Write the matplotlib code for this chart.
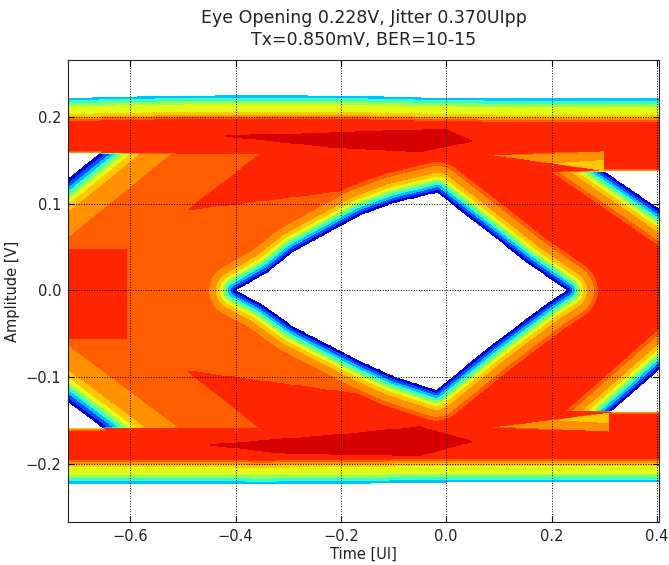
"""Statistical eye diagram (BER contour) redrawn from traced outlines."""

import numpy as np
import matplotlib
matplotlib.use("Agg")
import matplotlib.pyplot as plt
from matplotlib.path import Path

# ── traced shapes (x in UI, y in V) ─────────────────────────────────────
EYE_X = [-0.400, -0.337, -0.290, -0.162, -0.099, -0.017, 0.089, 0.154, 0.230,
         0.192, 0.091, -0.019, -0.100, -0.162, -0.290, -0.350]
EYE_Y = [0.000, 0.022, 0.045, 0.087, 0.101, 0.113, 0.063, 0.032, 0.000,
         -0.015, -0.061, -0.115, -0.099, -0.082, -0.042, -0.016]

RAIL_X = [-0.73, -0.55, -0.35, -0.15, 0.00, 0.20, 0.42]
RAIL_TOP_Y = [0.222, 0.224, 0.225, 0.224, 0.222, 0.221, 0.221]
RAIL_BOT_Y = [-0.222, -0.222, -0.223, -0.222, -0.221, -0.221, -0.221]

# corner openings: rail level, two points on the diagonal edge, a point inside
CORNERS = {
    "ul": dict(level=0.158, p0=(-0.657, 0.158), p1=(-0.714, 0.130), inside=(-0.72, 0.15), wide=True),
    "ll": dict(level=-0.159, p0=(-0.650, -0.159), p1=(-0.714, -0.130), inside=(-0.72, -0.15), wide=True),
    "ur": dict(level=0.137, p0=(0.300, 0.137), p1=(0.396, 0.097), inside=(0.40, 0.13), wide=False),
    "lr": dict(level=-0.140, p0=(0.312, -0.140), p1=(0.400, -0.093), inside=(0.40, -0.13), wide=False),
}

# body regions (jet value per region)
ORANGE_X = [-0.73, -0.35, -0.49, -0.16, -0.04, -0.017, -0.017, -0.04, -0.16, -0.49, -0.35, -0.73]
ORANGE_Y = [0.158, 0.158, 0.093, 0.118, 0.136, 0.113, -0.115, -0.138, -0.120, -0.093, -0.160, -0.160]
RED_BLOCK_X = [-0.73, -0.606, -0.606, -0.73]
RED_BLOCK_Y = [-0.056, -0.056, 0.047, 0.047]
DARK_TOP_X = [-0.42, -0.10, 0.00, 0.05, -0.05, -0.20]
DARK_TOP_Y = [0.178, 0.184, 0.185, 0.172, 0.160, 0.164]
DARK_BOT_X = [-0.45, -0.20, -0.05, 0.05, -0.05, -0.30]
DARK_BOT_Y = [-0.178, -0.166, -0.157, -0.174, -0.190, -0.188]
TAIL_TOP_X = [0.08, 0.30, 0.30]
TAIL_TOP_Y = [0.156, 0.161, 0.137]
TAIL_BOT_X = [0.08, 0.31, 0.31]
TAIL_BOT_Y = [-0.158, -0.163, -0.140]
TAIL_TOP_IN_X = [0.19, 0.30, 0.30]
TAIL_TOP_IN_Y = [0.147, 0.151, 0.137]
TAIL_BOT_IN_X = [0.19, 0.31, 0.31]
TAIL_BOT_IN_Y = [-0.150, -0.153, -0.140]

# jet values of the filled bands
LEVELS = [0.02, 0.14, 0.26, 0.37, 0.47, 0.58, 0.665, 0.73, 0.785, 0.835, 0.90, 0.95]
V_YO, V_LO, V_O, V_R, V_DR = 0.6975, 0.7575, 0.81, 0.8675, 0.925

# ramps: distance from an opening (px) -> value
EDGE_D = [0, 3, 5.5, 8, 10.5, 13, 16, 20, 27, 31, 36]
EDGE_V = [0.03, 0.14, 0.26, 0.37, 0.47, 0.58, 0.665, 0.73, 0.785, 0.835, 0.95]
WIDE_D = [0, 3.5, 7, 10, 13, 16, 20, 26, 46, 60]
WIDE_V = [0.03, 0.14, 0.26, 0.37, 0.47, 0.58, 0.665, 0.73, 0.785, 0.95]
RAIL_D = [0, 3, 6, 9, 17, 20, 22, 24, 28]
RAIL_V = [0.30, 0.37, 0.47, 0.58, 0.665, 0.73, 0.785, 0.835, 0.95]
THIN_D = [0, 2, 4]
THIN_V = [0.70, 0.785, 0.95]

XLIM = (-0.718, 0.404)
YLIM = (-0.2667, 0.2655)
SX, SY = 525.0, 870.0   # px per UI / per V


def seg_dist(px, py, a, b):
    ax_, ay_ = a
    bx, by = b
    dx, dy = bx - ax_, by - ay_
    t = np.clip(((px - ax_) * dx + (py - ay_) * dy) / (dx * dx + dy * dy), 0, 1)
    return np.hypot(px - ax_ - t * dx, py - ay_ - t * dy)


def inside(xs, ys, X, Y):
    pts = np.column_stack([X.ravel(), Y.ravel()])
    return Path(np.column_stack([xs, ys])).contains_points(pts).reshape(X.shape)


x = np.linspace(XLIM[0], XLIM[1], 700)
y = np.linspace(YLIM[0], YLIM[1], 560)
X, Y = np.meshgrid(x, y)
PX, PY = X * SX, Y * SY

# body
Z = np.full(X.shape, V_R)
Z[inside(ORANGE_X, ORANGE_Y, X, Y)] = V_O
Z[inside(RED_BLOCK_X, RED_BLOCK_Y, X, Y)] = V_R
Z[inside(TAIL_TOP_X, TAIL_TOP_Y, X, Y)] = V_LO
Z[inside(TAIL_BOT_X, TAIL_BOT_Y, X, Y)] = V_LO
Z[inside(TAIL_TOP_IN_X, TAIL_TOP_IN_Y, X, Y)] = V_YO
Z[inside(TAIL_BOT_IN_X, TAIL_BOT_IN_Y, X, Y)] = V_YO
Z[inside(DARK_TOP_X, DARK_TOP_Y, X, Y)] = V_DR
Z[inside(DARK_BOT_X, DARK_BOT_Y, X, Y)] = V_DR
hole = np.zeros(X.shape, bool)

# eye opening
ex, ey = np.array(EYE_X) * SX, np.array(EYE_Y) * SY
d_eye = np.full(X.shape, np.inf)
for i in range(len(ex)):
    j = (i + 1) % len(ex)
    d_eye = np.minimum(d_eye, seg_dist(PX, PY, (ex[i], ey[i]), (ex[j], ey[j])))
Z = np.minimum(Z, np.interp(d_eye, EDGE_D, EDGE_V))
hole |= inside(EYE_X, EYE_Y, X, Y)

# rails (outer edges)
d_top = (np.interp(X, RAIL_X, RAIL_TOP_Y) - Y) * SY
d_bot = (Y - np.interp(X, RAIL_X, RAIL_BOT_Y)) * SY
Z = np.minimum(Z, np.interp(d_top, RAIL_D, RAIL_V))
Z = np.minimum(Z, np.interp(d_bot, RAIL_D, RAIL_V))
hole |= (d_top < 0) | (d_bot < 0)

# corner openings
for c in CORNERS.values():
    (x0, y0), (x1, y1), (xi, yi) = c["p0"], c["p1"], c["inside"]
    dx, dy = (x1 - x0) * SX, (y1 - y0) * SY
    norm = np.hypot(dx, dy)
    side = (dx * (PY - y0 * SY) - dy * (PX - x0 * SX)) / norm
    ref = np.sign(dx * (yi - y0) * SY - dy * (xi - x0) * SX)
    upper = c["level"] > 0
    below_rail = (Y < c["level"]) if upper else (Y > c["level"])
    in_side = side * ref > 0
    prof_d, prof_v = (WIDE_D, WIDE_V) if c["wide"] else (EDGE_D, EDGE_V)
    body = below_rail & ~in_side
    Z[body] = np.minimum(Z[body], np.interp(np.abs(side[body]), prof_d, prof_v))
    hole |= below_rail & in_side
    rail = ~below_rail & in_side
    d_rail = np.abs(Y[rail] - c["level"]) * SY
    Z[rail] = np.minimum(Z[rail], np.interp(d_rail, THIN_D, THIN_V))

Zm = np.ma.masked_array(Z, mask=hole)

fig = plt.figure(figsize=(6.69, 5.65), dpi=100)
ax = fig.add_axes([68 / 669, 1 - 522 / 565, 591 / 669, 462 / 565])
ax.contourf(X, Y, Zm, levels=LEVELS, cmap="jet", vmin=0, vmax=1)
ax.set_xlim(*XLIM)
ax.set_ylim(*YLIM)
ax.set_xticks([-0.6, -0.4, -0.2, 0.0, 0.2, 0.4])
ax.set_yticks([-0.2, -0.1, 0.0, 0.1, 0.2])
ax.grid(True, color="k", linestyle=":", linewidth=0.7)
ax.tick_params(direction="in", top=True, right=True, length=4, labelsize=10.5,
               labelcolor="#222222", pad=5)
for s in ax.spines.values():
    s.set_color("#222222")
ax.set_xlabel("Time [UI]", fontsize=10.5, color="#222222", labelpad=2)
ax.set_ylabel("Amplitude [V]", fontsize=10.5, color="#222222", labelpad=4)
ax.set_title("Eye Opening 0.228V, Jitter 0.370UIpp\nTx=0.850mV, BER=10-15",
             fontsize=12.5, color="#222222", linespacing=1.3, pad=11)
fig.savefig("out.png", dpi=100)
